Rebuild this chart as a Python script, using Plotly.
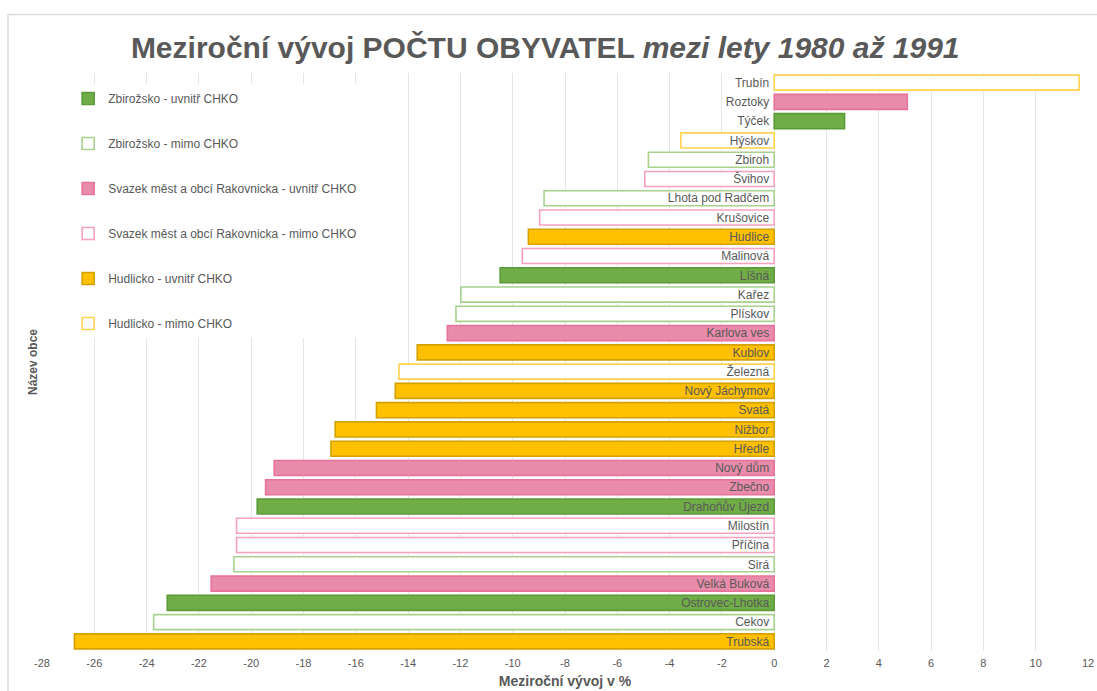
import plotly.graph_objects as go

# ---------------- data ----------------
names = ["Trubín", "Roztoky", "Týček", "Hýskov", "Zbiroh", "Švihov",
         "Lhota pod Radčem", "Krušovice", "Hudlice", "Malinová", "Líšná",
         "Kařez", "Plískov", "Karlova ves", "Kublov", "Železná",
         "Nový Jáchymov", "Svatá", "Nižbor", "Hředle", "Nový dům", "Zbečno",
         "Drahoňův Újezd", "Milostín", "Příčina", "Sirá", "Velká Buková",
         "Ostrovec-Lhotka", "Cekov", "Trubská"]
values = [11.66, 5.09, 2.69, -3.57, -4.81, -4.95, -8.80, -8.97, -9.40, -9.63,
          -10.48, -11.98, -12.17, -12.50, -13.65, -14.35, -14.49, -15.21,
          -16.79, -16.95, -19.12, -19.45, -19.77, -20.56, -20.56, -20.66,
          -21.53, -23.21, -23.73, -26.76]
groups = [5, 2, 0, 5, 1, 3, 1, 3, 4, 3, 0, 1, 1, 2, 4, 5, 4, 4, 4, 4,
          2, 2, 0, 3, 3, 1, 2, 0, 1, 4]
group_names = ["Zbirožsko - uvnitř CHKO", "Zbirožsko - mimo CHKO",
               "Svazek měst a obcí Rakovnicka - uvnitř CHKO",
               "Svazek měst a obcí Rakovnicka - mimo CHKO",
               "Hudlicko - uvnitř CHKO", "Hudlicko - mimo CHKO"]
tick_values = list(range(-28, 13, 2))
tick_labels = [str(v) for v in tick_values]

# ---------------- styles ----------------
fills = ["#70AD47", "#FFFFFF", "#E98BAA", "#FFFFFF", "#FFC000", "#FFFFFF"]
lines = ["#5A9A38", "#A9D18E", "#E8739A", "#F7A1C0", "#D4A200", "#FFD44F"]
FONT = "Liberation Sans, Arial, sans-serif"
GRAY = "#595959"

fig = go.Figure()
for g, gname in enumerate(group_names):
    ys = [n for n, gg in zip(names, groups) if gg == g]
    xs = [v for v, gg in zip(values, groups) if gg == g]
    fig.add_trace(go.Bar(
        y=ys, x=xs, orientation="h", name=gname, legendgroup=str(g),
        marker=dict(color=fills[g], line=dict(color=lines[g], width=1.6)),
    ))

fig.update_layout(
    width=1097, height=691,
    paper_bgcolor="white", plot_bgcolor="white",
    margin=dict(l=42, r=9, t=73, b=40),
    font=dict(family=FONT, color=GRAY, size=12),
    barmode="overlay", bargap=0.22,
    title=dict(
        text="<b>Meziroční vývoj POČTU OBYVATEL <i>mezi lety 1980 až 1991</i></b>",
        font=dict(family=FONT, size=30, color=GRAY),
        x=0.497, xref="container", xanchor="center",
        y=1 - 47 / 691, yref="container", yanchor="middle",
    ),
    legend=dict(
        x=0.025, y=0.981, xanchor="left", yanchor="top",
        bgcolor="white", font=dict(size=12, color=GRAY),
        tracegroupgap=26, traceorder="grouped", itemwidth=30,
    ),
    xaxis=dict(
        range=[-28, 12], tickvals=tick_values, ticktext=tick_labels,
        showgrid=True, gridcolor="#E6E6E6", gridwidth=1,
        zeroline=False, showline=False, ticks="", automargin=False,
        ticklabelstandoff=4,
        tickfont=dict(size=11, color=GRAY),
        title=dict(text="<b>Meziroční vývoj v %</b>",
                   font=dict(size=14, color=GRAY), standoff=8),
    ),
    yaxis=dict(
        categoryorder="array", categoryarray=names, autorange="reversed",
        anchor="free", position=28 / 40, showgrid=False, zeroline=False,
        showline=False, ticks="", ticklabelstandoff=5, automargin=False,
        tickfont=dict(size=12, color=GRAY),
    ),
    annotations=[dict(
        text="<b>Název obce</b>", xref="paper", yref="paper",
        x=(33 - 42) / 1046, y=0.5, xanchor="center", yanchor="middle",
        textangle=-90, showarrow=False, font=dict(size=12, color=GRAY),
    )],
    shapes=[dict(
        type="rect", xref="paper", yref="paper",
        x0=(8 - 42) / 1046, x1=1.06, y0=-0.1, y1=(650.6 - 14) / 578,
        line=dict(color="#DADADA", width=1.5), fillcolor="rgba(0,0,0,0)",
        layer="below",
    )],
)

fig.write_html("out.html", config={"displayModeBar": False},
               post_script="document.body.style.margin='0';")
